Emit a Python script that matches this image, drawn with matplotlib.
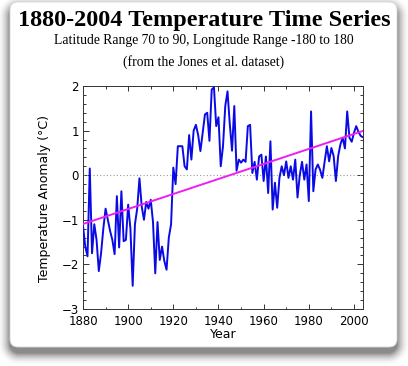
import matplotlib
matplotlib.use("Agg")
import matplotlib.pyplot as plt
import numpy as np
from matplotlib.patches import FancyBboxPatch
from matplotlib.ticker import MultipleLocator

# annual anomaly, 70N-90N
years = np.arange(1880, 2005)
anomaly = [
    -1.14, -1.60, -1.82, 0.15, -1.75, -1.10, -1.45, -2.15, -1.75, -1.20,   # 1880s
    -0.75, -1.00, -1.25, -1.45, -1.77, -0.47, -1.62, -0.36, -1.48, -1.45,  # 1890s
    -0.66, -1.20, -2.48, -1.10, -0.75, -0.07, -0.70, -1.00, -0.60, -0.75,  # 1900s
    -0.55, -1.05, -2.20, -1.05, -1.90, -1.60, -1.92, -2.12, -1.40, -1.10,  # 1910s
    0.17, -0.20, 0.65, 0.65, 0.65, 0.20, 0.13, 0.90, 0.35, 1.00,           # 1920s
    1.13, 0.90, 0.54, 0.95, 1.36, 1.40, 0.77, 1.92, 1.97, 1.10,            # 1930s
    1.30, 0.20, 0.65, 1.55, 1.88, 1.15, 0.55, 1.55, 0.10, 0.35,            # 1940s
    0.28, 0.35, 0.30, 1.10, 1.13, 0.05, 0.30, -0.10, 0.42, 0.46,           # 1950s
    -0.13, 0.42, -0.40, 0.76, -0.77, -0.17, -0.73, -0.06, 0.20, 0.00,      # 1960s
    0.31, -0.06, 0.20, -0.10, 0.35, -0.50, 0.00, 0.30, -0.10, 0.24,        # 1970s
    -0.58, 1.43, -0.36, 0.13, 0.24, 0.12, -0.06, 0.30, 0.65, 0.31,         # 1980s
    0.61, 0.43, -0.13, 0.43, 0.69, 0.84, 0.60, 1.43, 0.84, 0.75,           # 1990s
    0.95, 1.10, 0.97, 0.88, 0.85,                                          # 2000s
]

title = "1880-2004 Temperature Time Series"
subtitle1 = "Latitude Range 70 to 90, Longitude Range -180 to 180"
subtitle2 = "(from the Jones et al. dataset)"

W, H = 408, 366
fig = plt.figure(figsize=(W / 100, H / 100), dpi=100)
fig.patch.set_facecolor("white")

# background: white card with a soft drop shadow
bg = fig.add_axes([0, 0, 1, 1])
bg.set_xlim(0, W)
bg.set_ylim(H, 0)
bg.axis("off")

px, py = np.meshgrid(np.arange(W) + 0.5, np.arange(H) + 0.5)
cx, cy, hw, hh, r = 203.5, 180.0, 193.5, 173.0, 9.0
qx = np.abs(px - cx) - (hw - r)
qy = np.abs(py - cy) - (hh - r)
d = np.hypot(np.maximum(qx, 0), np.maximum(qy, 0)) + np.minimum(np.maximum(qx, qy), 0) - r
alpha = 0.65 * np.clip(1 - d / 13.0, 0, 1) ** 2
shadow = np.zeros((H, W, 4))
shadow[..., :3] = 0.3
shadow[..., 3] = alpha
bg.imshow(shadow, extent=(0, W, H, 0), interpolation="bilinear", zorder=0)

card = FancyBboxPatch((10, 2), 387, 345, boxstyle="round,pad=0,rounding_size=8",
                      facecolor="white", edgecolor="#d8d8d8", linewidth=0.6, zorder=1)
bg.add_patch(card)

# titles
fig.text(0.5, 1 - 26 / H, title, ha="center", va="baseline",
         family="Liberation Serif", weight="bold", fontsize=17.5)
fig.text(0.5, 1 - 44.3 / H, subtitle1, ha="center", va="baseline",
         family="Liberation Serif", fontsize=9.8)
fig.text(0.5, 1 - 65.7 / H, subtitle2, ha="center", va="baseline",
         family="Liberation Serif", fontsize=9.8)

# main plot
ax = fig.add_axes([83 / W, 1 - 309 / H, 280 / W, 223 / H])
ax.patch.set_alpha(0)
ax.plot(years, anomaly, color="#0a0ae6", lw=1.4, zorder=3)

fit = np.polyfit(years, anomaly, 1)
ax.plot(years, np.polyval(fit, years), color="#f01ef0", lw=1.4, zorder=4)

ax.axhline(0, color="#9a9a9a", lw=0.8, ls=(0, (1, 2)), zorder=2)

ax.set_xlim(1880, 2004)
ax.set_ylim(-3, 2)
ax.xaxis.set_major_locator(MultipleLocator(20))
ax.xaxis.set_minor_locator(MultipleLocator(10))
ax.yaxis.set_major_locator(MultipleLocator(1))
ax.yaxis.set_minor_locator(MultipleLocator(0.2))

tick_font = ["Liberation Sans Narrow", "DejaVu Sans"]
ax.tick_params(which="both", direction="in", top=True, right=True,
               color="#333333", width=0.7)
ax.tick_params(axis="x", which="major", length=3.5, pad=4.5)
ax.tick_params(axis="x", which="minor", length=1.8)
ax.tick_params(axis="y", which="major", length=4.5, pad=3)
ax.tick_params(axis="y", which="minor", length=2.2)
for lab in ax.get_xticklabels() + ax.get_yticklabels():
    lab.set_family(tick_font)
    lab.set_fontsize(8.5)
for s in ax.spines.values():
    s.set_color("#333333")
    s.set_linewidth(0.7)

fig.text(45 / W, 1 - 198 / H, "Temperature Anomaly (°C)", rotation=90,
         ha="center", va="center", family="DejaVu Sans", fontsize=9)
fig.text(223 / W, 1 - 334 / H, "Year", ha="center", va="center",
         family="DejaVu Sans", fontsize=9)

fig.savefig("out.png", dpi=100)
